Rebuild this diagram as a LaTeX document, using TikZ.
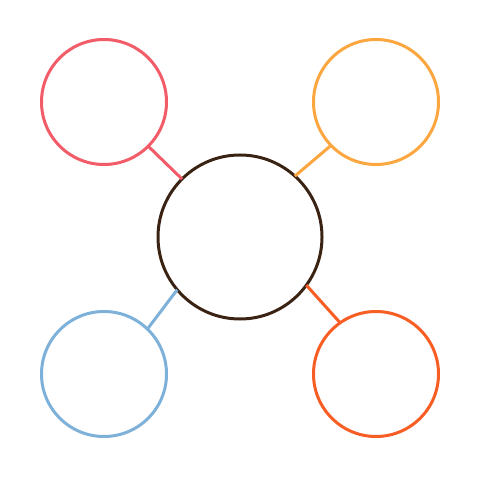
\documentclass[tikz,border=0pt]{standalone}
\begin{document}
\begin{tikzpicture}[x=1bp,y=-1bp,
  ring/.style={circle,draw,line width=3bp,inner sep=0pt,outer sep=0pt},
  small/.style={ring,minimum size=125bp},
  link/.style={line width=3bp}]
\definecolor{cTL}{HTML}{F25C69}
\definecolor{cTR}{HTML}{FCA63F}
\definecolor{cBL}{HTML}{7DB1DA}
\definecolor{cBR}{HTML}{F85D24}
\definecolor{cC}{HTML}{3B2314}
\useasboundingbox (0,0) rectangle (480,480);
\node[small,draw=cTL] (tl) at (104,102) {};
\node[small,draw=cTR] (tr) at (376,102) {};
\node[small,draw=cBL] (bl) at (104,374) {};
\node[small,draw=cBR] (br) at (376,374) {};
\node[ring,draw=cC,minimum size=164bp] (c) at (240,237) {};
\draw[link,cTL] (tl.-45) -- (c.135);
\draw[link,cTR] (tr.-136) -- (c.48);
\draw[link,cBL] (bl.46) -- (c.-140);
\draw[link,cBR] (br.125) -- (c.-36);
\end{tikzpicture}
\end{document}
